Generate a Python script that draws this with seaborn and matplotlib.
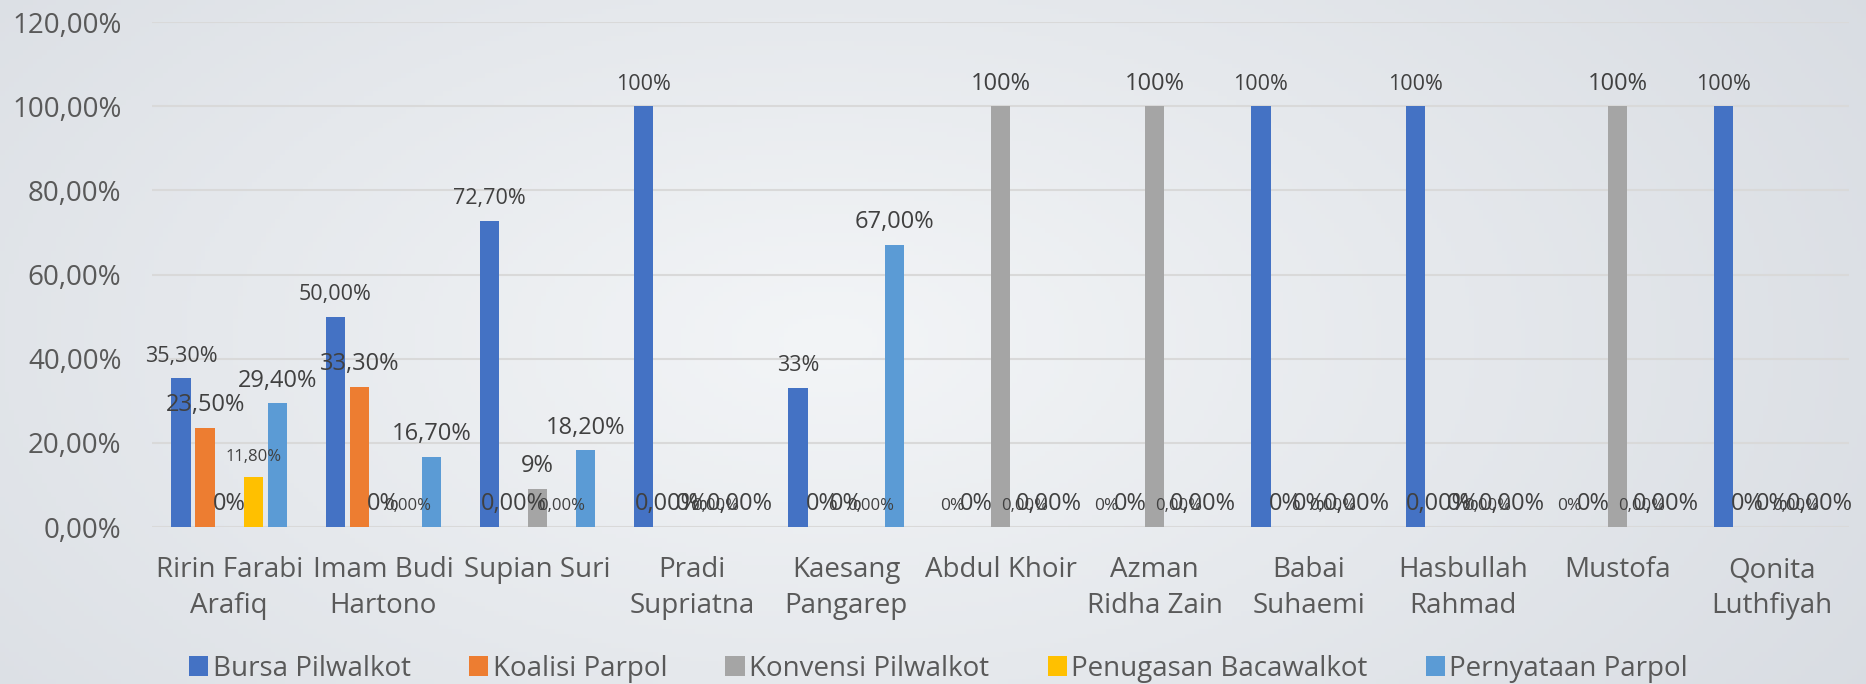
import numpy as np
import pandas as pd
import matplotlib.pyplot as plt
import seaborn as sns
from matplotlib.ticker import FuncFormatter

### Data
candidates = ["Ririn Farabi\nArafiq", "Imam Budi\nHartono", "Supian Suri", "Pradi\nSupriatna",
              "Kaesang\nPangarep", "Abdul Khoir", "Azman\nRidha Zain", "Babai\nSuhaemi",
              "Hasbullah\nRahmad", "Mustofa", "Qonita\nLuthfiyah"]
series = ["Bursa Pilwalkot", "Koalisi Parpol", "Konvensi Pilwalkot",
          "Penugasan Bacawalkot", "Pernyataan Parpol"]

bursa = [35.3, 50.0, 72.7, 100, 33, 0, 0, 100, 100, 0, 100]
koalisi = [23.5, 33.3, 0, 0, 0, 0, 0, 0, 0, 0, 0]
konvensi = [0, 0, 9, 0, 0, 100, 100, 0, 0, 100, 0]
penugasan = [11.8, 0, 0, 0, 0, 0, 0, 0, 0, 0, 0]
pernyataan = [29.4, 16.7, 18.2, 0, 67.0, 0, 0, 0, 0, 0, 0]

bursa_labels = ["35,30%", "50,00%", "72,70%", "100%", "33%", "0%", "0%", "100%", "100%", "0%", "100%"]
koalisi_labels = ["23,50%", "33,30%", "0,00%", "0,00%", "0%", "0%", "0%", "0%", "0,00%", "0%", "0%"]
konvensi_labels = ["0%", "0%", "9%", "0%", "0%", "100%", "100%", "0%", "0%", "100%", "0%"]
penugasan_labels = ["11,80%"] + ["0,00%"] * 10
pernyataan_labels = ["29,40%", "16,70%", "18,20%", "0,00%", "67,00%"] + ["0,00%"] * 6

values = [bursa, koalisi, konvensi, penugasan, pernyataan]
labels = [bursa_labels, koalisi_labels, konvensi_labels, penugasan_labels, pernyataan_labels]

### Style
colors = ["#4472C4", "#ED7D31", "#A5A5A5", "#FFC000", "#5B9BD5"]
label_size = {"Bursa Pilwalkot": 15.5, "Koalisi Parpol": 17, "Konvensi Pilwalkot": 17,
              "Penugasan Bacawalkot": 12, "Pernyataan Parpol": 17}

df = pd.DataFrame({
    "candidate": np.tile(candidates, len(series)),
    "series": np.repeat(series, len(candidates)),
    "value": np.concatenate(values),
})

sns.set_style("white")
plt.rcParams["font.family"] = ["Open Sans", "DejaVu Sans"]

fig = plt.figure(figsize=(18.66, 6.84), dpi=100)

### Background gradient
bg = fig.add_axes([0, 0, 1, 1], zorder=-10)
gx = np.linspace(-1, 1, 400)
gy = np.linspace(-1, 1, 150)
X, Y = np.meshgrid(gx, gy)
r = np.sqrt((X * 0.9 + 0.1) ** 2 + (Y * 0.6) ** 2)
base_light = np.array([0xF3, 0xF5, 0xF7]) / 255
base_dark = np.array([0xD8, 0xDC, 0xE2]) / 255
t = np.clip(r / 1.2, 0, 1)[..., None]
img = base_light * (1 - t) + base_dark * t
bg.imshow(img, aspect="auto", extent=[0, 1, 0, 1])
bg.axis("off")

ax = fig.add_axes([152 / 1866, 1 - 527 / 684, (1849 - 152) / 1866, (527 - 22) / 684])
ax.set_facecolor("none")

sns.barplot(data=df, x="candidate", y="value", hue="series", order=candidates,
            hue_order=series, palette=colors, saturation=1, errorbar=None,
            width=0.78, gap=0.2, linewidth=0, edgecolor="none", ax=ax, zorder=3)

ax.set_ylim(0, 120)
ax.set_yticks(np.arange(0, 121, 20))
ax.yaxis.set_major_formatter(FuncFormatter(lambda v, p: f"{v:.2f}".replace(".", ",") + "%"))
ax.grid(axis="y", color="#D9D9D9", linewidth=1.5, zorder=0)
ax.set_axisbelow(True)
for s in ax.spines.values():
    s.set_visible(False)
ax.tick_params(axis="y", length=0, pad=22, labelsize=20, labelcolor="#595959")
ax.tick_params(axis="x", length=0, pad=21, labelsize=20, labelcolor="#595959")
for lab in ax.get_xticklabels():
    lab.set_linespacing(1.38)
ax.set_xlabel("")
ax.set_ylabel("")

### Data labels
for name, cont, labs in zip(series, ax.containers, labels):
    for bar, txt in zip(cont, labs):
        size = label_size[name]
        if name == "Bursa Pilwalkot" and txt == "0%":
            size = 12.5
        ax.annotate(txt, (bar.get_x() + bar.get_width() / 2, bar.get_height()),
                    xytext=(0, 12), textcoords="offset points", ha="center", va="baseline",
                    fontsize=size, color="#404040", zorder=5)

### Legend
handles, leg_labels = ax.get_legend_handles_labels()
ax.get_legend().remove()
fig.legend(handles, leg_labels, loc="lower center", bbox_to_anchor=(0.503, -0.035), ncol=5,
           frameon=False, fontsize=20, labelcolor="#595959", handlelength=0.7,
           handleheight=0.7, handletextpad=0.15, columnspacing=2.1)

plt.savefig("out.png", dpi=100)
